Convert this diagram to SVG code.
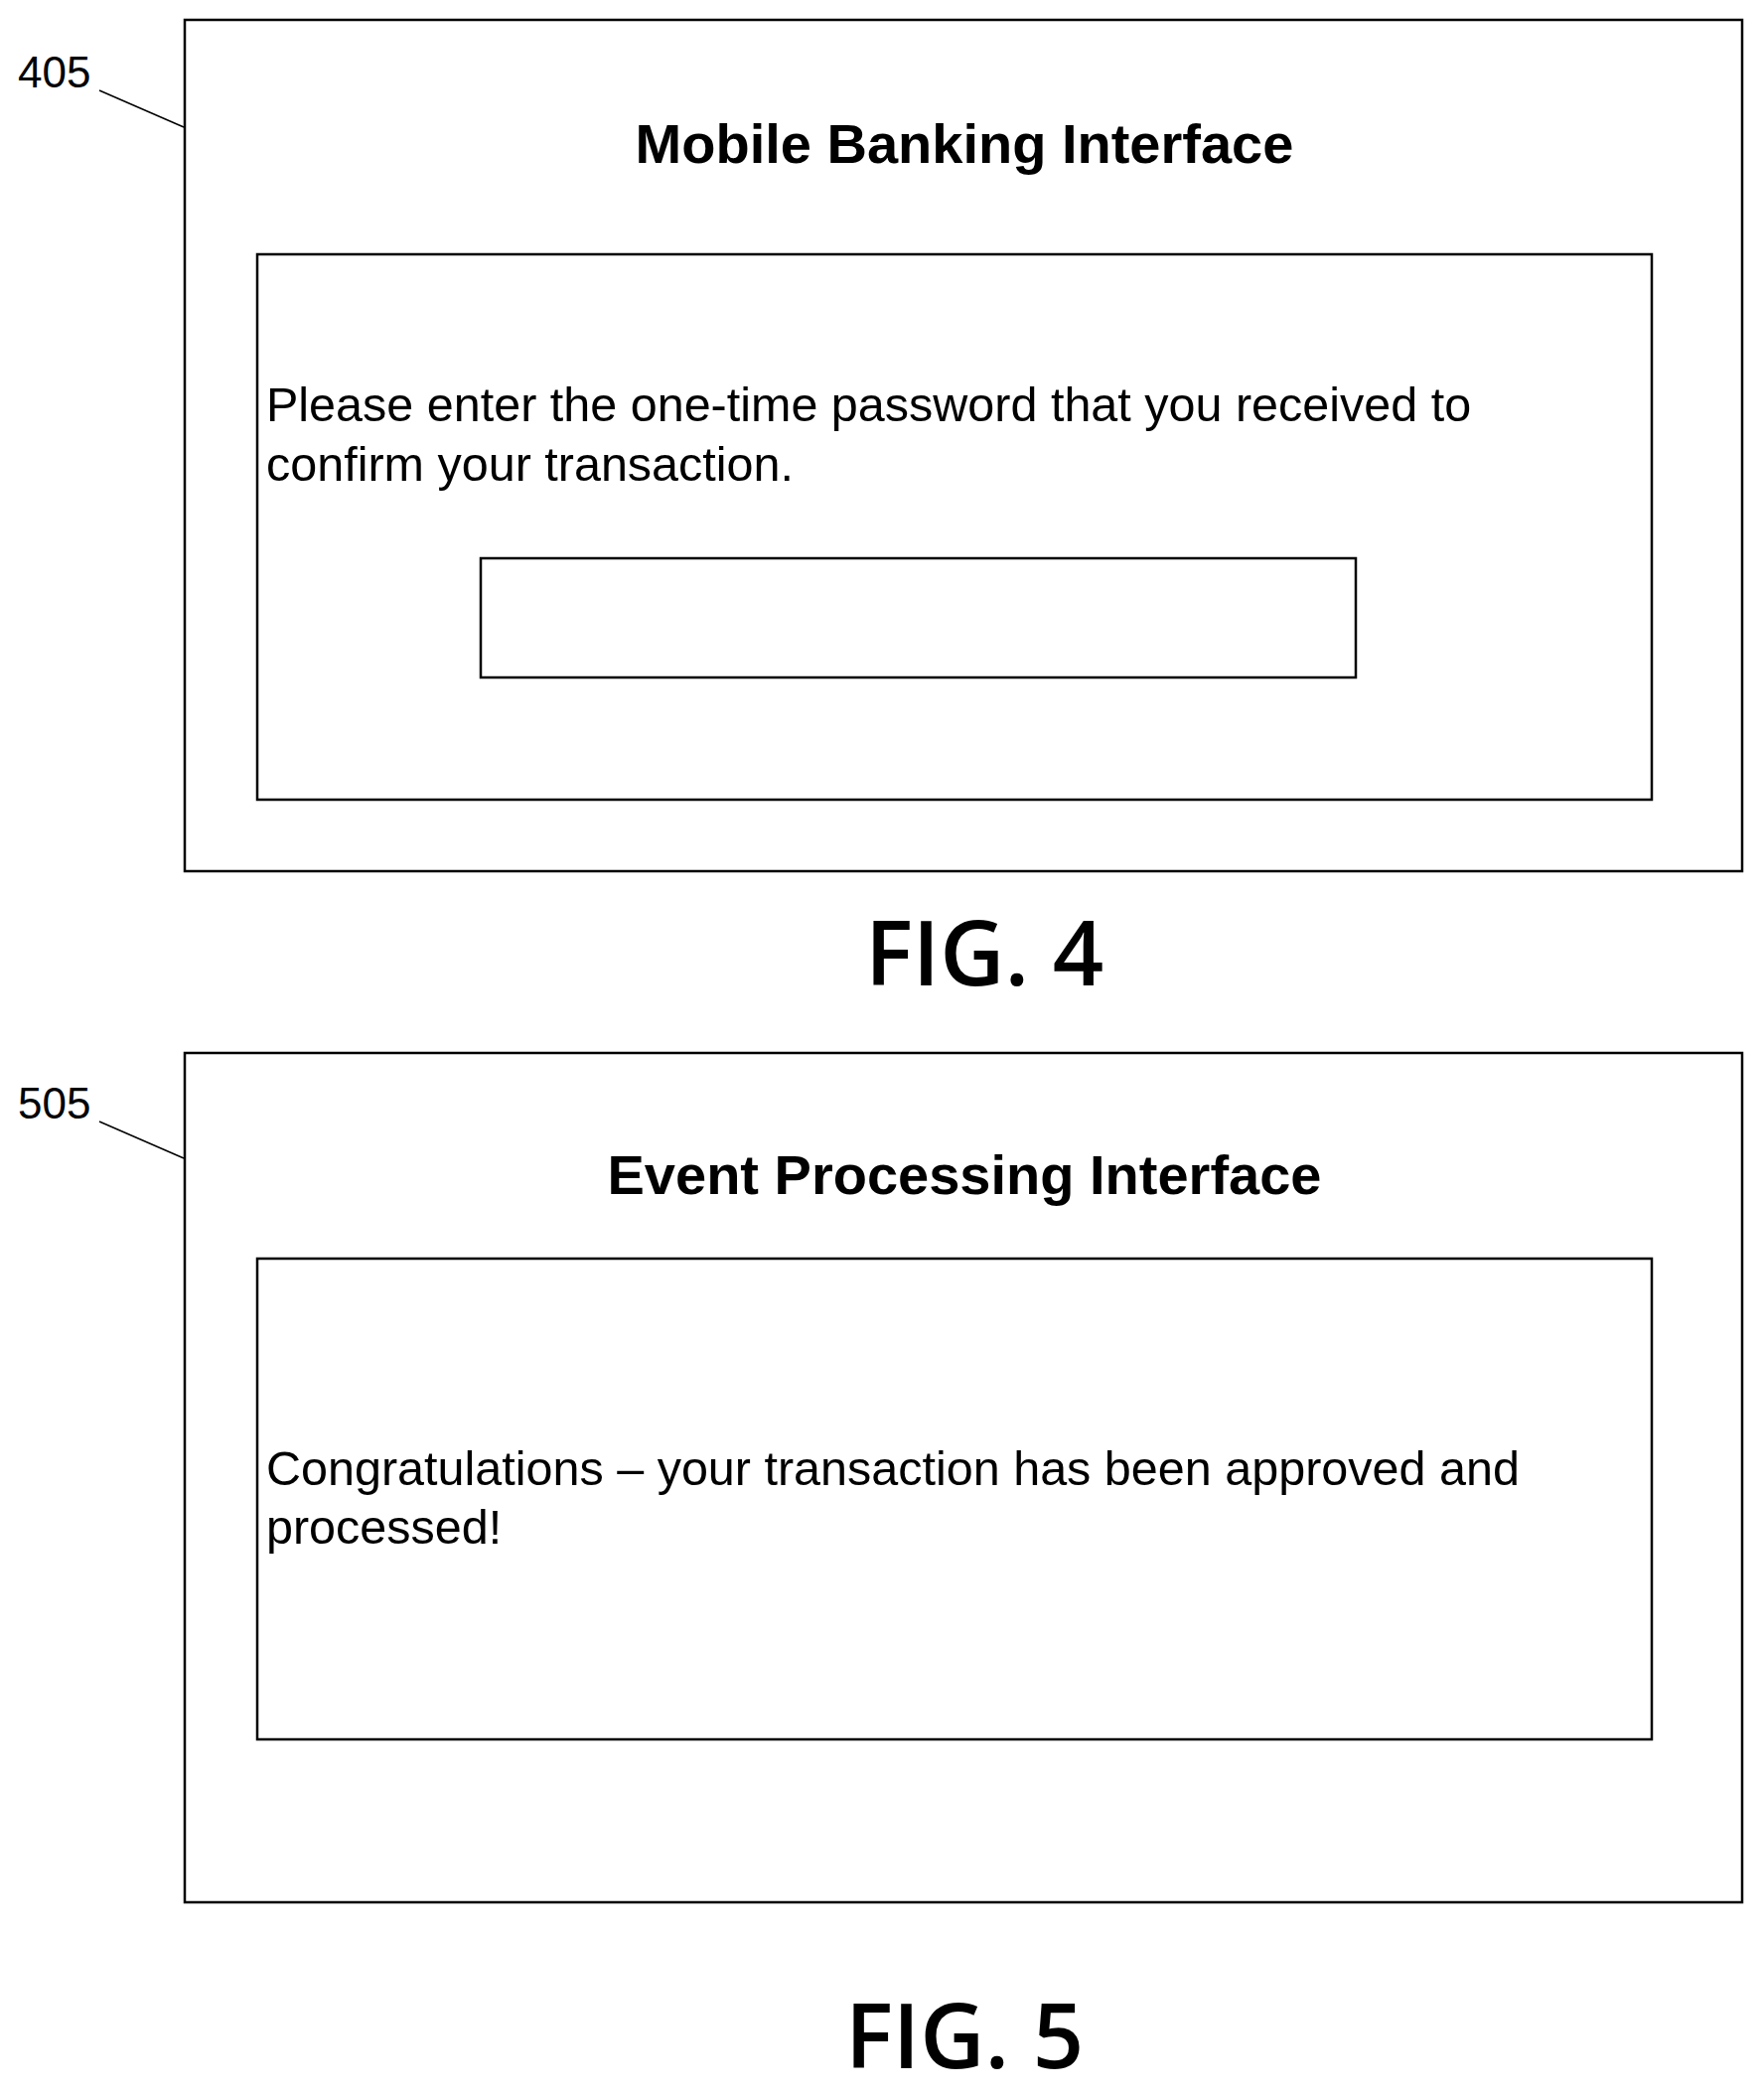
<svg xmlns="http://www.w3.org/2000/svg" width="1776" height="2109" viewBox="0 0 1776 2109">
<style>
.b{fill:none;stroke:#000;stroke-width:2.5}
.t{font-family:"Liberation Sans",Arial,sans-serif;fill:#000}
.h{font-weight:bold;font-size:56px;text-anchor:middle}
.p{font-size:48.5px}
.f{font-family:"Open Sans","DejaVu Sans",sans-serif;font-weight:600;font-size:90px;text-anchor:middle}
.r{font-size:44px}
.l{stroke:#000;stroke-width:1.5;fill:none}
</style>
<rect width="1776" height="2109" fill="#fff"/>
<g id="fig4">
<rect class="b" x="186" y="20" width="1568" height="857"/>
<text class="t h" x="971" y="164">Mobile Banking Interface</text>
<rect class="b" x="259" y="256" width="1404" height="549"/>
<text class="t p" x="268" y="424">Please enter the one-time password that you received to</text>
<text class="t p" x="268" y="484">confirm your transaction.</text>
<rect class="b" x="484" y="562" width="881" height="120"/>
<text class="t f" x="991" y="992">FIG. 4</text>
</g>
<g id="fig5">
<rect class="b" x="186" y="1060" width="1568" height="855"/>
<text class="t h" x="971" y="1202">Event Processing Interface</text>
<rect class="b" x="259" y="1267" width="1404" height="484"/>
<text class="t p" x="268" y="1495">Congratulations – your transaction has been approved and</text>
<text class="t p" x="268" y="1554">processed!</text>
<text class="t f" x="971" y="2082">FIG. 5</text>
</g>
<g id="labels">
<text class="t r" x="18" y="88">405</text>
<text class="t r" x="18" y="1126">505</text>
</g>
<g id="connectors">
<line class="l" x1="100" y1="91" x2="185" y2="128"/>
<line class="l" x1="100" y1="1129" x2="185" y2="1166"/>
</g>
</svg>
